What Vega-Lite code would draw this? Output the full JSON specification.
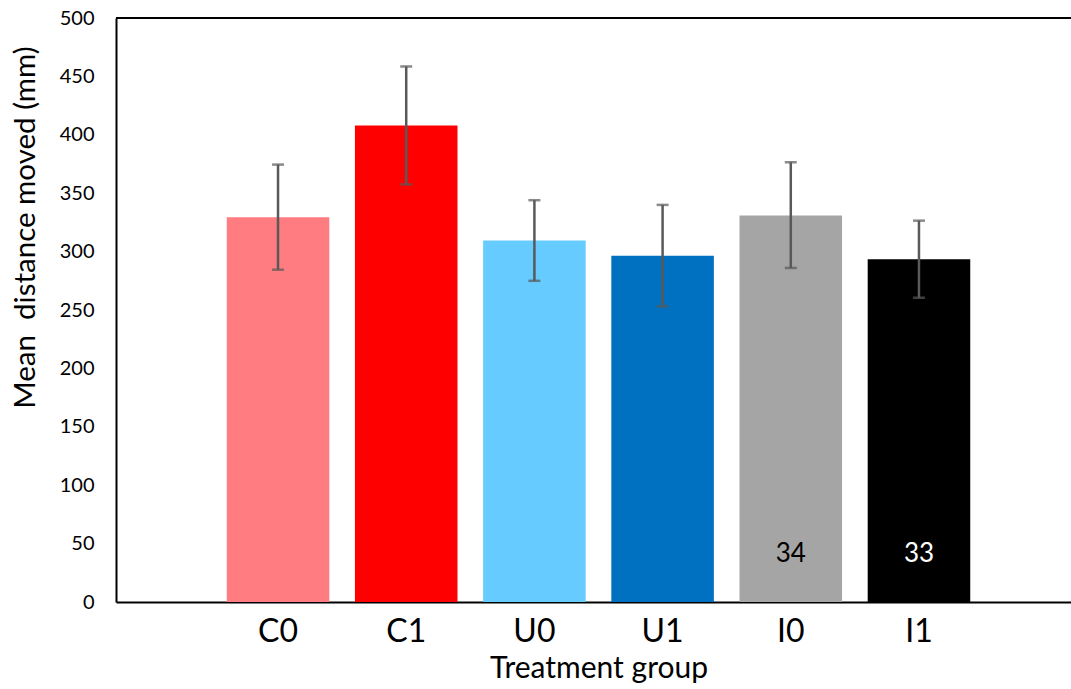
{
  "$schema": "https://vega.github.io/schema/vega-lite/v6.json",
  "width": 955,
  "height": 584,
  "autosize": {"type": "none"},
  "padding": {"left": 116, "top": 18, "right": 0, "bottom": 87},
  "background": "white",
  "config": {
    "view": {"stroke": null},
    "font": "Lato",
    "axis": {"grid": false, "domainColor": "#000000", "domainWidth": 2, "labelColor": "#000000", "titleColor": "#000000", "titleFontWeight": "normal", "labelFont": "Lato", "titleFont": "Lato"}
  },
  "data": {
    "values": [
      {"group": "C0", "mean": 329.5, "lo": 284.5, "hi": 374.5, "n": null},
      {"group": "C1", "mean": 408, "lo": 357.5, "hi": 458.5, "n": null},
      {"group": "U0", "mean": 309.5, "lo": 275, "hi": 344, "n": null},
      {"group": "U1", "mean": 296.5, "lo": 253, "hi": 340, "n": null},
      {"group": "I0", "mean": 331, "lo": 286, "hi": 376.5, "n": "34"},
      {"group": "I1", "mean": 293.5, "lo": 260.5, "hi": 326.5, "n": "33"}
    ]
  },
  "layer": [
    {
      "mark": {"type": "bar"},
      "encoding": {
        "x": {
          "field": "group",
          "type": "nominal",
          "sort": null,
          "scale": {"range": [0, 965], "paddingInner": 0.2, "paddingOuter": 0.864},
          "axis": {"title": "Treatment group", "labelAngle": 0, "ticks": false, "labelFontSize": 32, "labelPadding": 14, "titleFontSize": 30, "titlePadding": 6}
        },
        "y": {
          "field": "mean",
          "type": "quantitative",
          "title": "Mean\u00a0 distance moved (mm)",
          "scale": {"domain": [0, 500], "nice": false},
          "axis": {"values": [0, 50, 100, 150, 200, 250, 300, 350, 400, 450, 500], "ticks": false, "labelFontSize": 20, "labelPadding": 22, "titleFontSize": 29.5, "titleX": -82, "titleY": 209, "titleBaseline": "alphabetic", "titleAngle": -90, "titleAlign": "center"}
        },
        "color": {
          "field": "group",
          "type": "nominal",
          "sort": null,
          "scale": {"domain": ["C0", "C1", "U0", "U1", "I0", "I1"], "range": ["#FF7C80", "#FF0000", "#66CCFF", "#0070C0", "#A5A5A5", "#000000"]},
          "legend": null
        }
      }
    },
    {
      "mark": {"type": "errorbar", "ticks": {"size": 12, "thickness": 2.5, "color": "#595959"}, "rule": {"strokeWidth": 2.5, "color": "#595959"}, "color": "#595959"},
      "encoding": {
        "x": {"field": "group", "type": "nominal", "sort": null},
        "y": {"field": "lo", "type": "quantitative", "title": "Mean\u00a0 distance moved (mm)"},
        "y2": {"field": "hi"}
      }
    },
    {
      "transform": [{"filter": "datum.n != null"}],
      "mark": {"type": "text", "fontSize": 26, "baseline": "middle", "align": "center"},
      "encoding": {
        "x": {"field": "group", "type": "nominal", "sort": null},
        "y": {"datum": 41},
        "text": {"field": "n"},
        "color": {"condition": {"test": "datum.group === 'I1'", "value": "#FFFFFF"}, "value": "#000000"}
      }
    },
    {
      "mark": {"type": "rule", "color": "#000000", "strokeWidth": 2},
      "encoding": {"y": {"datum": 500}}
    }
  ]
}
